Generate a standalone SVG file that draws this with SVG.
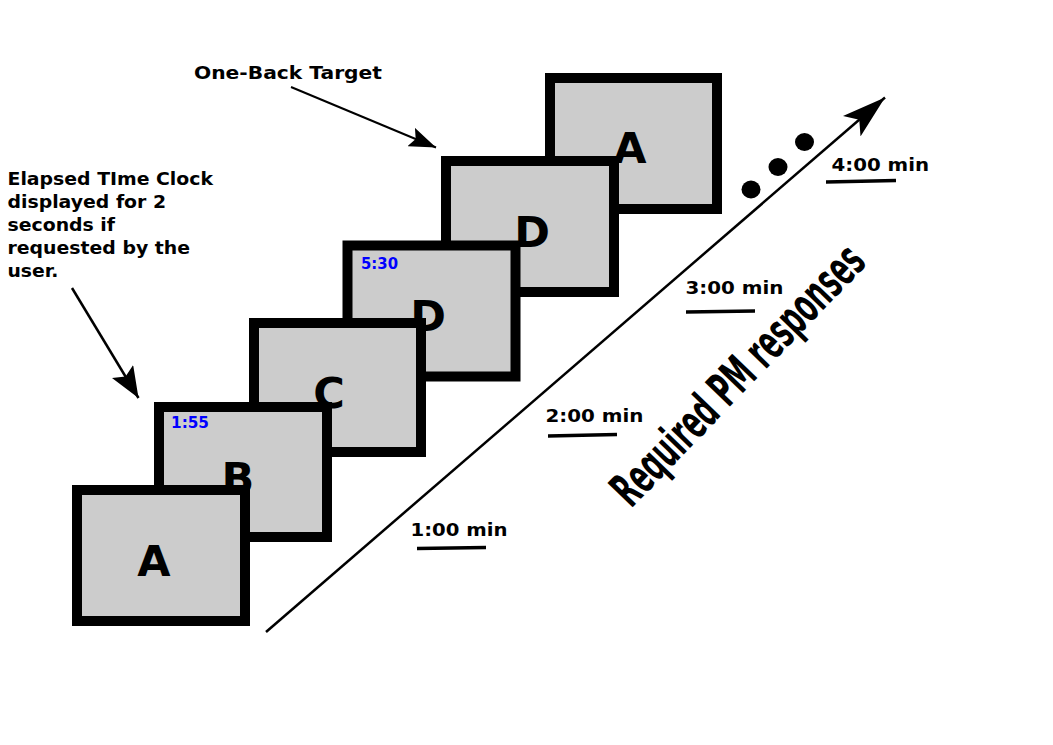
<svg xmlns="http://www.w3.org/2000/svg" width="1053" height="745" viewBox="0 0 1053 745">
<style>
.box{fill:#cccccc;stroke:#000000;stroke-width:10}
.letter{font-family:"DejaVu Sans",sans-serif;font-weight:bold;font-size:43px;fill:#000;text-anchor:middle}
.clock{font-family:"DejaVu Sans",sans-serif;font-weight:bold;font-size:15px;fill:#0000ff}
.lbl{font-family:"DejaVu Sans",sans-serif;font-weight:bold;font-size:17px;fill:#000}
.tlbl{font-family:"DejaVu Sans",sans-serif;font-weight:bold;font-size:18px;fill:#000}
.ul{stroke:#000;stroke-width:3.5;fill:none}
.conn{stroke:#000;fill:none}
</style>
<defs>
<marker id="ahBig" viewBox="0 0 44 27" refX="44" refY="13.5" markerWidth="44" markerHeight="27" markerUnits="userSpaceOnUse" orient="auto">
<path d="M44,13.5 L0,0 L10,13.5 L0,27 Z" fill="#000"/>
</marker>
<marker id="ahMid" viewBox="0 0 31 25" refX="31" refY="12.5" markerWidth="31" markerHeight="25" markerUnits="userSpaceOnUse" orient="auto">
<path d="M31,12.5 L0,0 L6,12.5 L0,25 Z" fill="#000"/>
</marker>
<marker id="ahSm" viewBox="0 0 27 20" refX="27" refY="10" markerWidth="27" markerHeight="20" markerUnits="userSpaceOnUse" orient="auto">
<path d="M27,10 L0,0 L5,10 L0,20 Z" fill="#000"/>
</marker>
</defs>

<g id="node-A2">
<rect class="box" x="550" y="78" width="167" height="131"/>
<text class="letter" x="630" y="163">A</text>
</g>
<g id="node-D2">
<rect class="box" x="446" y="161" width="168" height="131"/>
<text class="letter" x="532" y="247">D</text>
</g>
<g id="node-D1">
<rect class="box" x="347.5" y="245.5" width="168" height="131"/>
<text class="clock" x="361" y="269" textLength="37" lengthAdjust="spacingAndGlyphs">5:30</text>
<text class="letter" x="428" y="331">D</text>
</g>
<g id="node-C">
<rect class="box" x="254" y="323" width="167" height="129"/>
<text class="letter" x="329" y="408">C</text>
</g>
<g id="node-B">
<rect class="box" x="159" y="407" width="168" height="130"/>
<text class="clock" x="171" y="428" textLength="38" lengthAdjust="spacingAndGlyphs">1:55</text>
<text class="letter" x="238" y="493">B</text>
</g>
<g id="node-A1">
<rect class="box" x="77" y="490" width="168" height="131"/>
<text class="letter" x="154" y="576">A</text>
</g>

<g id="connectors">
<line class="conn" stroke-width="2.5" x1="266" y1="632" x2="885" y2="97.5" marker-end="url(#ahBig)"/>
<line class="conn" stroke-width="2" x1="291" y1="87" x2="436" y2="147.5" marker-end="url(#ahSm)"/>
<line class="conn" stroke-width="2.5" x1="72" y1="288" x2="138.5" y2="398" marker-end="url(#ahMid)"/>
</g>

<g id="dots">
<ellipse cx="751" cy="189.5" rx="9.5" ry="9"/>
<ellipse cx="778" cy="167" rx="9.5" ry="9"/>
<ellipse cx="804.5" cy="142" rx="9.5" ry="9"/>
</g>

<g id="time-labels">
<text class="tlbl" x="410.5" y="536" textLength="97" lengthAdjust="spacingAndGlyphs">1:00 min</text>
<line class="ul" x1="417" y1="548.5" x2="486" y2="547.5"/>
<text class="tlbl" x="545.5" y="422" textLength="98" lengthAdjust="spacingAndGlyphs">2:00 min</text>
<line class="ul" x1="548" y1="436" x2="617" y2="434.5"/>
<text class="tlbl" x="685.5" y="294" textLength="98" lengthAdjust="spacingAndGlyphs">3:00 min</text>
<line class="ul" x1="686" y1="312" x2="755" y2="311"/>
<text class="tlbl" x="831.5" y="170.5" textLength="97.5" lengthAdjust="spacingAndGlyphs">4:00 min</text>
<line class="ul" x1="826" y1="182" x2="896" y2="180.5"/>
</g>

<g id="annotation-oneback">
<text class="lbl" x="194" y="79" textLength="188" lengthAdjust="spacingAndGlyphs">One-Back Target</text>
</g>

<g id="annotation-clock">
<text class="lbl" x="7.5" y="185" textLength="205.5" lengthAdjust="spacingAndGlyphs">Elapsed TIme Clock</text>
<text class="lbl" x="7.5" y="208" textLength="158.5" lengthAdjust="spacingAndGlyphs">displayed for 2</text>
<text class="lbl" x="7.5" y="231" textLength="107.5" lengthAdjust="spacingAndGlyphs">seconds if</text>
<text class="lbl" x="7.5" y="254" textLength="182.5" lengthAdjust="spacingAndGlyphs">requested by the</text>
<text class="lbl" x="7.5" y="277" textLength="51" lengthAdjust="spacingAndGlyphs">user.</text>
</g>

<g id="rotated-label">
<text transform="translate(631,509) rotate(-46)" font-family="DejaVu Sans Condensed, DejaVu Sans, sans-serif" font-weight="bold" font-size="48" fill="#000" textLength="341" lengthAdjust="spacingAndGlyphs">Required PM responses</text>
</g>
</svg>
